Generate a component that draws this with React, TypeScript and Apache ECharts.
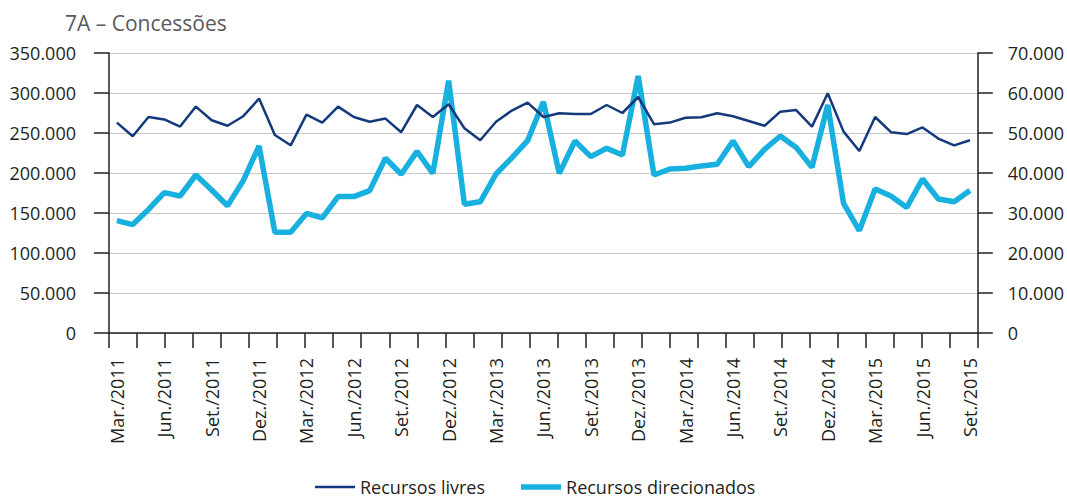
import React, { useEffect, useRef } from "react";
import * as echarts from "echarts";

const monthNames = ["Jan.", "Fev.", "Mar.", "Abr.", "Mai.", "Jun.", "Jul.", "Ago.", "Set.", "Out.", "Nov.", "Dez."];
const startYear = 2011;
const startMonth = 2; // March
const monthCount = 55;

const categories: string[] = [];
for (let i = 0; i < monthCount; i++) {
  const m = (startMonth + i) % 12;
  const y = startYear + Math.floor((startMonth + i) / 12);
  categories.push(`${monthNames[m]}/${y}`);
}

const recursosLivres = [
  263000, 246000, 270000, 267000, 258000, 283000, 266000, 259000, 271000, 293000,
  247500, 234600, 273000, 263000, 283000, 270000, 264000, 268000, 251000, 285000,
  270000, 286000, 256000, 241000, 264000, 278000, 288000, 270000, 274600, 273700,
  273700, 285000, 275000, 295000, 261000, 263000, 269000, 269600, 274600, 271000,
  265000, 259000, 276700, 278700, 258000, 299600, 251700, 227500, 270000, 251000,
  248700, 257000, 243000, 234600, 241000,
];

const recursosDirecionados = [
  28100, 27100, 30900, 35100, 34250, 39500, 35750, 31800, 38100, 46750,
  25200, 25200, 29900, 28800, 34100, 34100, 35600, 43700, 39700, 45400,
  39900, 63100, 32200, 32800, 39750, 43800, 48100, 57800, 39900, 48000,
  44100, 46200, 44500, 64250, 39500, 41000, 41200, 41750, 42200, 48000,
  41600, 45900, 49250, 46400, 41400, 57000, 32400, 25600, 36000, 34250,
  31400, 38500, 33500, 32800, 35600,
];

const tickSlots = Array.from({ length: 31 }, (_, i) => String(i));

const fmt = (v: number) => String(v).replace(/\B(?=(\d{3})+(?!\d))/g, ".");

const FONT = "'Open Sans', 'Noto Sans', sans-serif";
const AXIS_COLOR = "#231f20";
const TEXT_COLOR = "#231f20";
const DARK = "#123a7c";
const LIGHT = "#17b0df";

export default function App() {
  const ref = useRef<HTMLDivElement>(null);
  useEffect(() => {
    if (!ref.current) return;
    const chart = echarts.init(ref.current, undefined, { renderer: "svg" });
    chart.setOption({
      animation: false,
      backgroundColor: "#ffffff",
      title: {
        text: "7A – Concessões",
        left: 60,
        top: 7,
        textStyle: { fontFamily: FONT, fontSize: 21, fontWeight: "normal", color: "#58595b" },
      },
      legend: {
        left: 310,
        top: 473,
        itemWidth: 40,
        itemHeight: 14,
        itemGap: 36,
        symbolKeepAspect: true,
        textStyle: { fontFamily: FONT, fontSize: 18, lineHeight: 16, color: TEXT_COLOR },
        data: [
          { name: "Recursos livres", icon: "path://M0,0L40,0L40,2.5L0,2.5Z", itemStyle: { color: DARK } },
          { name: "Recursos direcionados", icon: "path://M0,0L40,0L40,5.5L0,5.5Z", itemStyle: { color: LIGHT } },
        ],
      },
      grid: { left: 109, right: 89, top: 53, bottom: 166, containLabel: false },
      xAxis: [
        {
          type: "category",
          data: categories,
          boundaryGap: true,
          position: "bottom",
          axisLine: { show: true, lineStyle: { color: AXIS_COLOR, width: 1.5 } },
          axisTick: { show: false },
          axisLabel: {
            interval: 2,
            rotate: 90,
            margin: 25,
            padding: [8, 0, 0, 0],
            fontFamily: FONT,
            fontSize: 18,
            color: TEXT_COLOR,
          },
          splitLine: { show: false },
        },
        {
          type: "category",
          data: tickSlots,
          boundaryGap: true,
          position: "bottom",
          axisLine: { show: false },
          axisTick: { show: true, length: 15, lineStyle: { color: AXIS_COLOR, width: 1.5 } },
          axisLabel: { show: false },
          splitLine: { show: false },
        },
      ],
      yAxis: [
        {
          type: "value",
          min: 0,
          max: 350000,
          interval: 50000,
          position: "left",
          axisLine: { show: true, lineStyle: { color: AXIS_COLOR, width: 1.5 } },
          axisTick: { show: true, length: 15, lineStyle: { color: AXIS_COLOR, width: 1.5 } },
          axisLabel: { margin: 33, fontFamily: FONT, fontSize: 18, color: TEXT_COLOR, formatter: (v: number) => fmt(v) },
          splitLine: { show: true, lineStyle: { color: "#c8c8c8", width: 1 } },
        },
        {
          type: "value",
          min: 0,
          max: 70000,
          interval: 10000,
          position: "right",
          axisLine: { show: true, lineStyle: { color: AXIS_COLOR, width: 1.5 } },
          axisTick: { show: true, length: 15, lineStyle: { color: AXIS_COLOR, width: 1.5 } },
          axisLabel: { margin: 30, fontFamily: FONT, fontSize: 18, color: TEXT_COLOR, formatter: (v: number) => fmt(v) },
          splitLine: { show: false },
        },
      ],
      series: [
        {
          name: "Recursos livres",
          type: "line",
          xAxisIndex: 0,
          yAxisIndex: 0,
          data: recursosLivres,
          symbol: "none",
          showSymbol: false,
          lineStyle: { color: DARK, width: 2.5 },
          itemStyle: { color: DARK },
          z: 3,
        },
        {
          name: "Recursos direcionados",
          type: "line",
          xAxisIndex: 0,
          yAxisIndex: 1,
          data: recursosDirecionados,
          symbol: "none",
          showSymbol: false,
          lineStyle: { color: LIGHT, width: 5.5 },
          itemStyle: { color: LIGHT },
          z: 2,
        },
      ],
    });
    return () => chart.dispose();
  }, []);
  return <div ref={ref} style={{ width: 1067, height: 499, position: "absolute", left: 0, top: 0 }} />;
}
